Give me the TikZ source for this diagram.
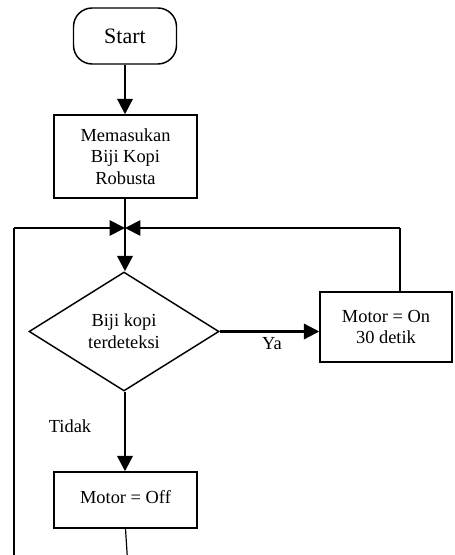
\documentclass[tikz,border=0pt]{standalone}
\usepackage{fontspec}
\setmainfont{Liberation Serif}
\usetikzlibrary{shapes.geometric,arrows.meta}
\begin{document}
\begin{tikzpicture}[x=0.75pt,y=-0.75pt,
  every node/.style={font=\fontsize{13.8}{16.3}\selectfont, align=center, inner sep=0pt},
  box/.style={draw, line width=1.1pt, rectangle},
  tip/.style={-{Triangle[length=11.5pt,width=11.5pt]}},
  flow/.style={line width=1.7pt, tip},
  plain/.style={line width=1.7pt},
  loopline/.style={line width=1.4pt},
  thinline/.style={line width=0.9pt}]
\useasboundingbox (0,0) rectangle (454,555);
% nodes
\node[box, rounded corners=14pt, minimum width=77.25pt, minimum height=42pt,
      font=\fontsize{16.5}{19}\selectfont] (start) at (125,36) {Start};
\node[box, minimum width=107.25pt, minimum height=62.25pt] (proc) at (125.5,156.5)
  {Memasukan\\Biji Kopi\\Robusta};
\node[draw, line width=1.1pt, diamond, minimum width=142.5pt, minimum height=89.25pt] (dec) at (124,331.5)
  {Biji kopi\\terdeteksi};
\node[box, minimum width=99pt, minimum height=52.5pt] (on) at (386,327)
  {Motor = On\\30 detik};
\node[box, minimum width=107.25pt, minimum height=42pt] (off) at (125.5,500)
  {\raisebox{4pt}{Motor = Off}};
% labels
\node (ya) at (272,344) {Ya};
\node (tidak) at (70,426) {Tidak};
% coordinates
\coordinate (J) at (125,228);
\coordinate (R) at (400,228);
\coordinate (L) at (14,228);
\coordinate (Lb) at (14,560);
\coordinate (B) at (127.5,560);
% connectors
\draw[flow] (start.south -| J) -- (proc.north -| J);
\draw[plain] (proc.south -| J) -- (J);
\draw[flow] (J) -- (dec.north -| J);
\draw[flow] (dec.east) -- (dec.east -| on.west);
\draw[flow] (dec.south -| J) -- (off.north -| J);
\draw[loopline] (on.north -| R) -- (R);
\draw[loopline, tip] (R) -- (J);
\draw[thinline] (Lb) -- (L);
\draw[loopline, tip] (L) -- (J);
\draw[thinline] (off.south) -- (B);
\end{tikzpicture}
\end{document}
